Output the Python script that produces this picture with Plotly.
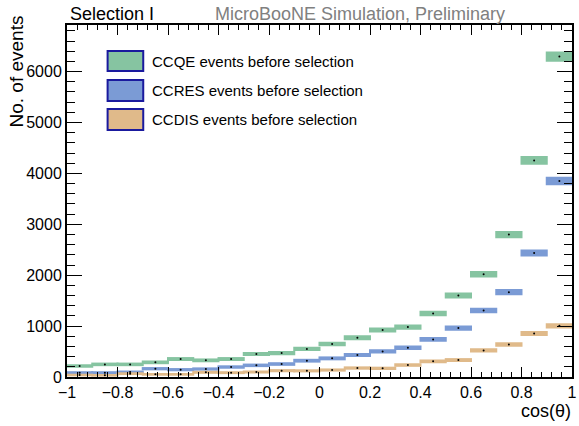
import numpy as np
import plotly.graph_objects as go

bin_edges = [round(-1 + 0.1 * i, 2) for i in range(21)]
ccqe = [216, 248, 248, 288, 353, 327, 353, 451, 471, 552, 647, 771, 922, 980, 1248, 1601, 2020, 2797, 4255, 6294]
ccres = [85, 85, 98, 163, 144, 157, 196, 229, 255, 320, 366, 431, 503, 575, 739, 961, 1307, 1667, 2438, 3850]
ccdis = [39, 33, 65, 52, 52, 92, 85, 98, 124, 121, 137, 176, 170, 235, 307, 333, 523, 640, 856, 1006]

names = ["CCQE events before selection", "CCRES events before selection", "CCDIS events before selection"]
colors = ["#86c4a1", "#7b9bd5", "#e0ba8a"]

centers = [(bin_edges[i] + bin_edges[i + 1]) / 2 for i in range(20)]

fig = go.Figure()
for vals, col, nm in zip([ccqe, ccres, ccdis], colors, names):
    v = np.array(vals, dtype=float)
    err = np.sqrt(v)
    fig.add_trace(go.Bar(x=centers, y=2 * err, base=v - err, width=0.1,
                         marker=dict(color=col, line=dict(color=col, width=2)),
                         showlegend=False, name=nm))
for vals in [ccqe, ccres, ccdis]:
    fig.add_trace(go.Scatter(x=centers, y=vals, mode="markers",
                             marker=dict(color="black", size=2), showlegend=False))

W, H = 579, 426
L, R, T, B = 67, 2, 25, 49
pw, ph = W - L - R, H - T - B
def px(x):
    return (x - L) / pw
def py(y):
    return (H - B - y) / ph

font = "Liberation Sans, Arial, sans-serif"
fig.update_layout(
    width=W, height=H, margin=dict(l=L, r=R, t=T, b=B),
    paper_bgcolor="white", plot_bgcolor="white", barmode="overlay",
    font=dict(family=font, color="black", size=16),
    xaxis=dict(range=[-1, 1], dtick=0.2, tick0=-1, ticks="inside", ticklen=10, tickwidth=1,
               tickcolor="black", showline=True, linecolor="black", linewidth=2, mirror="allticks",
               showgrid=False, zeroline=False, tickfont=dict(size=16), ticklabeloverflow="allow",
               minor=dict(dtick=0.04, tick0=-1, ticks="inside", ticklen=5, tickcolor="black", showgrid=False)),
    yaxis=dict(range=[0, 6915], dtick=1000, ticks="inside", ticklen=15, tickwidth=1,
               tickcolor="black", showline=True, linecolor="black", linewidth=2, mirror="allticks",
               showgrid=False, zeroline=False, tickformat="d", tickfont=dict(size=16),
               ticklabeloverflow="allow",
               minor=dict(dtick=200, ticks="inside", ticklen=8, tickcolor="black", showgrid=False)),
)

ann = [
    dict(text="Selection I", x=px(68), y=py(14), xanchor="left", yanchor="middle", font=dict(size=18)),
    dict(text="MicroBooNE Simulation, Preliminary", x=px(511), y=py(14), xanchor="right", yanchor="middle",
         font=dict(size=18, color="#808080")),
    dict(text="cos(θ)", x=px(578), y=py(411), xanchor="right", yanchor="middle", font=dict(size=18)),
    dict(text="No. of events", x=px(17), y=py(13), xanchor="center", yanchor="top", textangle=-90,
         font=dict(size=19)),
]
box_rows = [(51, 71), (80, 101), (109, 130)]
for (y0, y1), col, nm in zip(box_rows, colors, names):
    fig.add_shape(type="rect", xref="paper", yref="paper", x0=px(108), x1=px(144), y0=py(y1), y1=py(y0),
                  fillcolor=col, line=dict(color="#1a1a9e", width=2))
    ann.append(dict(text=nm, x=px(151), y=py((y0 + y1) / 2), xanchor="left", yanchor="middle",
                    font=dict(size=15)))
for a in ann:
    a.update(xref="paper", yref="paper", showarrow=False)
fig.update_layout(annotations=ann)

fig.write_html("out.html")
